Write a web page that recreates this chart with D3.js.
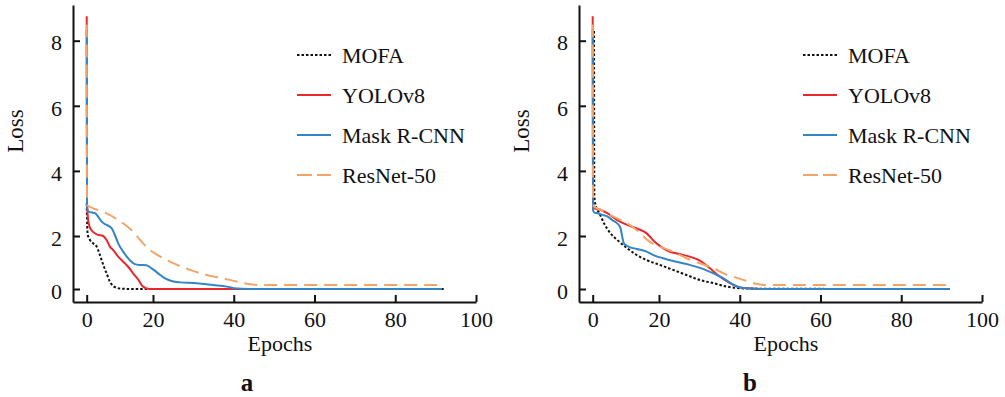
<!DOCTYPE html>
<html>
<head>
<meta charset="utf-8">
<script src="https://cdn.jsdelivr.net/npm/d3@7"></script>
<style>
  body { margin: 0; background: #fff; }
  text { font-family: "Liberation Serif", "Times New Roman", serif; fill: #111; }
</style>
</head>
<body>
<div id="chart"></div>
<script>
// series names, in legend order
var names = ["MOFA", "YOLOv8", "Mask R-CNN", "ResNet-50"];
var xTicks = [0, 20, 40, 60, 80, 100];
var yTicks = [0, 2, 4, 6, 8];

// panel a  [epoch, loss]
var mofaA = [[0,3.0],[0.1,2.5],[0.3,2.05],[1,1.85],[2,1.72],[3,1.6],[3.8,1.35],[4.5,1.09],[5.2,0.84],[6,0.59],[7,0.28],[8,0.11],[10,0.02],[13,0],[92,0]];
var yoloA = [[0,8.75],[0.1,3.0],[0.5,2.45],[1,2.25],[2,2.12],[3,2.05],[5,2.0],[6,1.85],[7,1.6],[8,1.47],[9.5,1.22],[11,1.03],[12.5,0.84],[14,0.59],[15.6,0.34],[17,0.09],[19,0],[91.5,0]];
var maskA = [[0,8.33],[0.1,2.9],[0.5,2.75],[2.5,2.7],[3.5,2.59],[4.5,2.44],[6,2.34],[7.5,2.24],[8.5,2.03],[9.5,1.72],[11,1.41],[13,1.09],[14.5,0.94],[16,0.91],[18,0.9],[19.6,0.78],[21.3,0.59],[23,0.4],[24.6,0.3],[26.7,0.25],[30.8,0.22],[34.9,0.15],[38.3,0.09],[40,0.03],[44,0],[91.5,0]];
var resnetA = [[0,8.5],[0.1,2.95],[2,2.85],[5,2.74],[8,2.59],[11,2.39],[14,2.13],[16.6,1.78],[19.1,1.47],[21.8,1.22],[25.1,0.97],[29.2,0.72],[33.3,0.53],[37.4,0.4],[40.7,0.28],[44,0.18],[47,0.15],[91.5,0.15]];

// panel b
var mofaB = [[0.4,8.3],[0.5,3.21],[1,2.9],[2,2.7],[3.4,2.39],[5.4,2.08],[7.4,1.85],[10.4,1.54],[13.3,1.28],[16.3,1.09],[20.2,0.91],[23.5,0.72],[26.8,0.53],[30.1,0.34],[33.5,0.22],[36.8,0.09],[40.1,0.03],[45,0.01],[92,0]];
var yoloB = [[0,8.75],[0.1,2.95],[0.5,2.85],[2.5,2.8],[4.4,2.7],[7.4,2.49],[10.4,2.34],[13.3,2.23],[16.3,2.08],[18.7,1.78],[21,1.54],[22.6,1.41],[25.1,1.32],[27.6,1.22],[30.1,1.07],[32.6,0.78],[35.1,0.46],[37.6,0.22],[40.1,0.06],[42.6,0.02],[45,0],[92,0]];
var maskB = [[0,8.33],[0.1,2.8],[0.5,2.72],[1.5,2.7],[3,2.65],[4.4,2.6],[5.9,2.49],[7.4,2.39],[8.4,2.24],[8.9,1.98],[9.4,1.72],[10.8,1.6],[13.3,1.51],[16.3,1.41],[18.3,1.28],[21,1.16],[24.3,1.03],[27.6,0.91],[31,0.75],[33.5,0.59],[36,0.4],[38.5,0.15],[40.1,0.06],[42.6,0.02],[45,0],[92,0]];
var resnetB = [[0,8.5],[0.1,3.0],[0.3,2.92],[2.5,2.8],[6.4,2.59],[10.4,2.39],[13.3,2.18],[15.3,1.98],[17.2,1.78],[20.2,1.6],[23.5,1.41],[26.8,1.16],[30.1,0.97],[33.5,0.78],[36,0.59],[38.5,0.46],[41.8,0.3],[44,0.2],[47,0.15],[92,0.15]];

var styles = [
  {color: "#111", width: 2, dash: "2.5,2"},
  {color: "#e8282b", width: 2, dash: null},
  {color: "#3485c6", width: 2, dash: null},
  {color: "#f4a466", width: 2, dash: "13,7"}
];

var svg = d3.select("#chart").append("svg")
    .attr("width", 1005)
    .attr("height", 397);

// the source figure's axes are not quite linear near the origin
var x = d3.scaleLinear().domain([-4.13, 0, 20, 100]).range([73, 86.7, 153, 476]);
var y = d3.scaleLinear().domain([-0.49, 0, 2, 8, 9.1]).range([302, 289, 236, 40.7, 5]);

var line = d3.line()
    .x(function(d) { return x(d[0]); })
    .y(function(d) { return y(d[1]); })
    .curve(d3.curveMonotoneX);

function panel(dx, series, label, lblX) {
  var g = svg.append("g").attr("transform", "translate(" + dx + ",0)");

  series.forEach(function(s, i) {
    g.append("path")
      .attr("d", line(s))
      .attr("fill", "none")
      .attr("stroke", styles[i].color)
      .attr("stroke-width", styles[i].width)
      .attr("stroke-dasharray", styles[i].dash);
  });

  var xa = g.append("g")
      .attr("transform", "translate(0,302)")
      .call(d3.axisBottom(x).tickValues(xTicks).tickSizeInner(-7).tickSizeOuter(0).tickPadding(9.5));
  var ya = g.append("g")
      .attr("transform", "translate(73,0)")
      .call(d3.axisLeft(y).tickValues(yTicks).tickSizeInner(-7).tickSizeOuter(0).tickPadding(11));
  [xa, ya].forEach(function(a) {
    a.select(".domain").attr("stroke", "#111").attr("stroke-width", 2);
    a.selectAll(".tick line").attr("stroke", "#111").attr("stroke-width", 2);
    a.selectAll(".tick text").style("font-size", "22px").attr("fill", "#111")
      .style("font-family", "'Liberation Serif', serif");
  });
  ya.selectAll(".tick text").attr("dy", "0.42em");

  g.append("text")
    .attr("x", 280).attr("y", 351)
    .attr("text-anchor", "middle")
    .style("font-size", "22px")
    .text("Epochs");

  g.append("text")
    .attr("transform", "translate(23,131) rotate(-90)")
    .attr("text-anchor", "middle")
    .style("font-size", "23px")
    .text("Loss");

  g.append("text")
    .attr("x", lblX).attr("y", 391)
    .attr("text-anchor", "middle")
    .style("font-size", "25px")
    .style("font-weight", "bold")
    .text(label);

  // legend
  var leg = g.selectAll(".legend")
      .data(names)
    .enter().append("g")
      .attr("class", "legend")
      .attr("transform", function(d, i) { return "translate(297," + (55 + i * 40) + ")"; });
  leg.append("line")
    .attr("x1", 0).attr("x2", 34)
    .attr("stroke", function(d, i) { return styles[i].color; })
    .attr("stroke-width", function(d, i) { return styles[i].width; })
    .attr("stroke-dasharray", function(d, i) { return i === 3 ? "15,5" : styles[i].dash; });
  leg.append("text")
    .attr("x", 45)
    .attr("dy", "0.36em")
    .style("font-size", "22px")
    .text(function(d) { return d; });
}

panel(0, [mofaA, yoloA, maskA, resnetA], "a", 247);
panel(506, [mofaB, yoloB, maskB, resnetB], "b", 244);
</script>
</body>
</html>
